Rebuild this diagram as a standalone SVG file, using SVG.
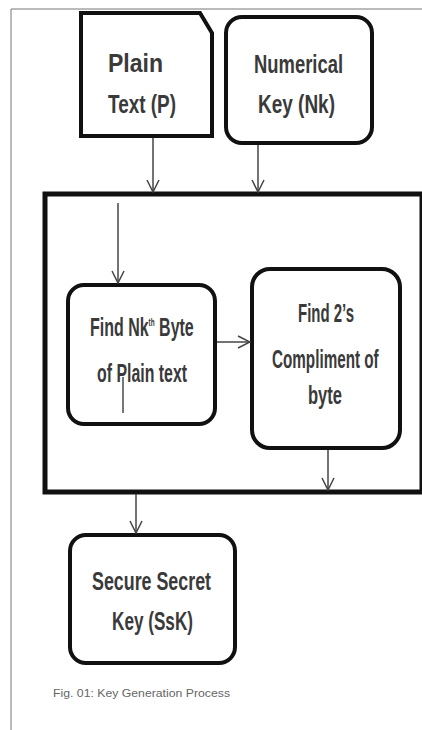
<svg xmlns="http://www.w3.org/2000/svg" width="422" height="730" viewBox="0 0 422 730">
<style>
.node{fill:#fff;stroke:#111;stroke-width:4}
.lbl{font-family:"Liberation Sans",Arial,sans-serif;font-size:25px;font-weight:bold;fill:#3a3a3a}
.cap{font-family:"Liberation Sans",Arial,sans-serif;font-size:11px;fill:#666}
.conn{stroke:#444;stroke-width:1.5;fill:none}
</style>
<defs>
<marker id="arr" viewBox="0 0 14 14" refX="13" refY="7" markerWidth="14" markerHeight="14" markerUnits="userSpaceOnUse" orient="auto">
<path d="M1,1 L13,7 L1,13" fill="none" stroke="#444" stroke-width="1.5"/>
</marker>
</defs>
<rect x="0" y="0" width="422" height="730" fill="#fff"/>
<path d="M11,730 V9 H422" fill="none" stroke="#777" stroke-width="1"/>

<g id="container">
<rect x="45" y="194" width="377" height="298" fill="#fff" stroke="#111" stroke-width="5"/>
</g>

<g id="plain-text">
<path class="node" d="M81,13 H200 L212,33 V136 H81 Z"/>
<text class="lbl" x="108" y="72" textLength="55" lengthAdjust="spacingAndGlyphs">Plain</text>
<text class="lbl" x="108" y="113" textLength="68" lengthAdjust="spacingAndGlyphs">Text (P)</text>
</g>

<g id="numerical-key">
<rect class="node" x="226" y="17" width="146" height="126" rx="16"/>
<text class="lbl" x="254" y="73" textLength="89" lengthAdjust="spacingAndGlyphs">Numerical</text>
<text class="lbl" x="258" y="113" textLength="77" lengthAdjust="spacingAndGlyphs">Key (Nk)</text>
</g>

<g id="find-nth-byte">
<rect class="node" x="68" y="285" width="147" height="139" rx="16"/>
<text class="lbl" transform="translate(90,336) scale(0.64,1)">Find Nk<tspan style="font-size:10px" dy="-10">th</tspan><tspan dy="10"> Byte</tspan></text>
<text class="lbl" x="97" y="382" textLength="90" lengthAdjust="spacingAndGlyphs">of Plain text</text>
</g>

<g id="twos-compliment">
<rect class="node" x="252" y="269" width="148" height="179" rx="18"/>
<text class="lbl" x="298" y="322" textLength="56" lengthAdjust="spacingAndGlyphs">Find 2’s</text>
<text class="lbl" transform="translate(272,368) scale(0.61,1)">Compliment of</text>
<text class="lbl" x="308" y="404" textLength="34" lengthAdjust="spacingAndGlyphs">byte</text>
</g>

<g id="secure-secret-key">
<rect class="node" x="70" y="535" width="165" height="128" rx="16"/>
<text class="lbl" x="92" y="590" textLength="119" lengthAdjust="spacingAndGlyphs">Secure Secret</text>
<text class="lbl" x="112" y="630" textLength="81" lengthAdjust="spacingAndGlyphs">Key (SsK)</text>
</g>

<g id="connectors">
<line class="conn" x1="153" y1="138" x2="153" y2="192" marker-end="url(#arr)"/>
<line class="conn" x1="258" y1="145" x2="258" y2="192" marker-end="url(#arr)"/>
<line class="conn" x1="118" y1="203" x2="118" y2="283" marker-end="url(#arr)"/>
<line class="conn" x1="217" y1="342" x2="250" y2="342" marker-end="url(#arr)"/>
<line class="conn" x1="328" y1="450" x2="328" y2="490" marker-end="url(#arr)"/>
<line class="conn" x1="136" y1="494" x2="136" y2="533" marker-end="url(#arr)"/>
<line x1="123" y1="377" x2="123" y2="413" stroke="#777" stroke-width="2"/>
</g>

<text class="cap" x="53" y="697" textLength="177" lengthAdjust="spacingAndGlyphs">Fig. 01: Key Generation Process</text>
</svg>
